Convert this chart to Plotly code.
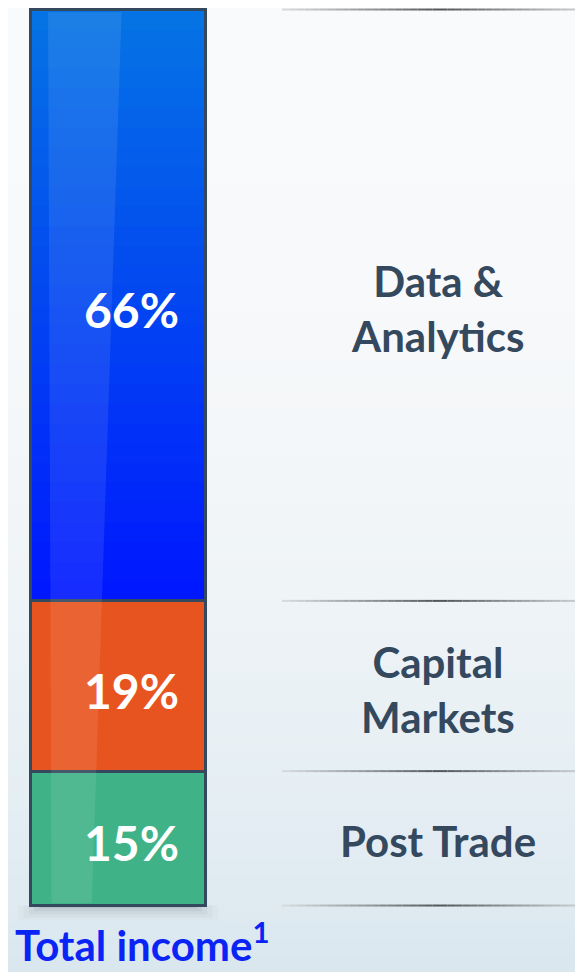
import plotly.graph_objects as go

# segments from bottom to top
segments = ['Post Trade', 'Capital<br>Markets', 'Data &<br>Analytics']
shares = [15, 19, 66]
share_labels = ['15%', '19%', '66%']
colors = ['#3fb387', '#e8541f', 'rgba(0,0,0,0)']  # blue one drawn as gradient below

W, H = 575, 964  # page body adds an 8px margin

fig = go.Figure()

for name, val, col in zip(segments, shares, colors):
    fig.add_trace(go.Bar(
        x=[0], y=[val], width=1, name=name,
        marker=dict(color=col, line=dict(color='#34495e', width=3)),
        hoverinfo='skip', showlegend=False))

shapes = []

# page background: light top fading into pale blue at the bottom
n = 60
top, bot = (249, 250, 251), (218, 231, 239)
for i in range(n):
    t = ((i + 0.5) / n) ** 2.2
    c = tuple(round(top[k] + (bot[k] - top[k]) * t) for k in range(3))
    shapes.append(dict(type='rect', xref='paper', yref='paper',
                       x0=0, x1=1, y0=1 - (i + 1) / n, y1=1 - i / n + 0.002,
                       fillcolor='rgb(%d,%d,%d)' % c, line=dict(width=0), layer='below'))

# cumulative boundaries
bounds = [0]
for v in shares:
    bounds.append(bounds[-1] + v)

# blue gradient fill for the top segment
b0, b1 = bounds[2], bounds[3]
gtop, gbot = (5, 115, 228), (0, 24, 255)
m = 30
for i in range(m):
    t = i / (m - 1)
    c = tuple(round(gbot[k] + (gtop[k] - gbot[k]) * t) for k in range(3))
    y0 = b0 + (b1 - b0) * i / m
    y1 = min(b1, b0 + (b1 - b0) * (i + 1) / m + 0.6)
    shapes.append(dict(type='rect', xref='x', yref='y', x0=-0.5, x1=0.5,
                       y0=y0, y1=y1, fillcolor='rgb(%d,%d,%d)' % c,
                       line=dict(width=0), layer='below'))

# soft shadow under the bar
for k, a in enumerate([0.10, 0.06, 0.04, 0.03, 0.02]):
    shapes.append(dict(type='rect', xref='x', yref='y',
                       x0=-0.45 - 0.03 * k, x1=0.45 + 0.03 * k,
                       y0=-0.3 - 0.35 * k, y1=0,
                       fillcolor='rgba(40,50,60,%.2f)' % a, line=dict(width=0), layer='below'))

# glossy highlight stripe on the bar (slightly slanted)
shapes.append(dict(type='path', xref='x', yref='y',
                   path='M -0.40,99.7 L 0.02,99.7 L -0.15,0.3 L -0.38,0.3 Z',
                   fillcolor='rgba(255,255,255,0.09)', line=dict(width=0), layer='above'))

# separator lines on the right, darker towards the middle
lx0, lx1, ldark = 0.4765, 1.0, 0.751
segs = 40
for b in bounds:
    for j in range(segs):
        xa = lx0 + (lx1 - lx0) * j / segs
        xb = lx0 + (lx1 - lx0) * (j + 1) / segs
        d = min(1, abs((xa + xb) / 2 - ldark) / 0.28)
        g = round(80 + (220 - 80) * d ** 0.9)
        shapes.append(dict(type='line', xref='paper', yref='y', x0=xa, x1=xb,
                           y0=b, y1=b, line=dict(color='rgb(%d,%d,%d)' % (g, g + 3, g + 6), width=2)))

annotations = []
for name, lab, lo, hi in zip(segments, share_labels, bounds[:-1], bounds[1:]):
    annotations.append(dict(text=lab, x=0, xref='x', xanchor='center', xshift=13,
                            y=(lo + hi) / 2, yref='y', yanchor='middle', yshift=-4,
                            showarrow=False,
                            font=dict(family='Lato', size=48, color='white', weight='bold')))
    annotations.append(dict(text='<b>%s</b>' % name, x=0.747, xref='paper', xanchor='center',
                            y=(lo + hi) / 2, yref='y', yanchor='middle', yshift=-3,
                            showarrow=False,
                            font=dict(family='Lato', size=42, color='#34495e')))

annotations.append(dict(text='<b>Total income<sup>1</sup></b>', x=0.009, xref='paper',
                        xanchor='left', y=0, yref='paper', yanchor='bottom',
                        showarrow=False,
                        font=dict(family='Lato', size=42, color='#0a24f5')))

fig.update_layout(
    width=W, height=H,
    margin=dict(l=0, r=0, t=0, b=0),
    barmode='stack',
    paper_bgcolor='#f9fafb',
    plot_bgcolor='rgba(0,0,0,0)',
    xaxis=dict(range=[-0.629, 2.657], visible=False, fixedrange=True),
    yaxis=dict(range=[-7.42, 100.17], visible=False, fixedrange=True),
    shapes=shapes,
    annotations=annotations)

fig.write_html("out.html")
